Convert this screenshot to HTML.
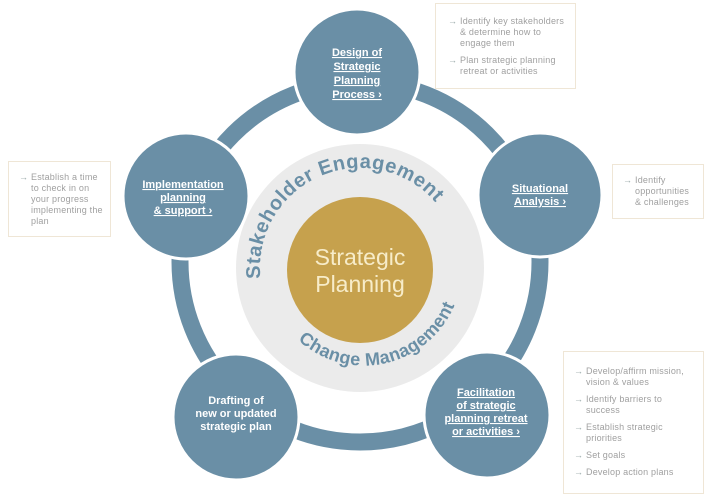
<!DOCTYPE html>
<html><head><style>
html,body{margin:0;padding:0;background:#fff;width:720px;height:494px;overflow:hidden}
.box{position:absolute;border:1.5px solid #efe6d6;background:#fff;font-family:"Liberation Sans",sans-serif;font-size:9px;line-height:11px;letter-spacing:0.2px;color:#a0a0a0;box-sizing:border-box}
.box p{margin:0 0 6px 0;padding-left:12px;position:relative}
.box p:before{content:"\2192";position:absolute;left:0;color:#9aa}
</style></head><body>
<svg width="720" height="494" style="position:absolute;left:0;top:0" font-family="Liberation Sans, sans-serif">
<circle cx="360" cy="262" r="180" fill="none" stroke="#6a8fa6" stroke-width="17"/>
<circle cx="360" cy="268" r="124" fill="#ebebeb"/>
<circle cx="360" cy="270" r="73" fill="#c6a14d"/>
<text x="360" y="265" text-anchor="middle" font-size="23" fill="#f7ecc9">Strategic</text>
<text x="360" y="292" text-anchor="middle" font-size="23" fill="#f7ecc9">Planning</text>
<defs>
<path id="top" d="M 260.5 278.5 A 100 100 0 0 1 454 234"/>
<path id="bot" d="M 298 340 A 98 98 0 0 0 462 268"/>
</defs>
<text font-size="20" font-weight="bold" fill="#6a8fa6" letter-spacing="0.6"><textPath href="#top">Stakeholder Engagement</textPath></text>
<text font-size="18" font-weight="bold" fill="#6a8fa6" letter-spacing="0.4"><textPath href="#bot">Change Management</textPath></text>
<g stroke="#fff" stroke-width="3" fill="#6a8fa6">
<circle cx="357" cy="72" r="63"/>
<circle cx="540" cy="195" r="62"/>
<circle cx="487" cy="415" r="63"/>
<circle cx="236" cy="417" r="63"/>
<circle cx="186" cy="196" r="63"/>
</g>
<g font-size="11" font-weight="bold" fill="#fff" text-anchor="middle" text-decoration="underline">
<text x="357" y="56">Design of</text><text x="357" y="70">Strategic</text><text x="357" y="84">Planning</text><text x="357" y="98">Process ›</text>
<text x="540" y="192">Situational</text><text x="540" y="205">Analysis ›</text>
<text x="486" y="396">Facilitation</text><text x="486" y="409">of strategic</text><text x="486" y="422">planning retreat</text><text x="486" y="435">or activities ›</text>
<text x="183" y="188">Implementation</text><text x="183" y="201">planning</text><text x="183" y="214">&amp; support ›</text>
</g>
<g font-size="11" font-weight="bold" fill="#fff" text-anchor="middle">
<text x="236" y="404">Drafting of</text><text x="236" y="417">new or updated</text><text x="236" y="430">strategic plan</text>
</g>
</svg>
<div class="box" style="left:435px;top:3px;width:141px;height:86px;padding:12px 8px 0 12px"><p>Identify key stakeholders &amp; determine how to engage them</p><p>Plan strategic planning retreat or activities</p></div>
<div class="box" style="left:612px;top:164px;width:92px;height:55px;padding:10px 8px 0 10px"><p>Identify opportunities &amp; challenges</p></div>
<div class="box" style="left:8px;top:161px;width:103px;height:76px;padding:10px 4px 0 10px"><p>Establish a time to check in on your progress implementing the plan</p></div>
<div class="box" style="left:563px;top:351px;width:141px;height:143px;padding:14px 10px 0 10px"><p>Develop/affirm mission, vision &amp; values</p><p>Identify barriers to success</p><p>Establish strategic priorities</p><p>Set goals</p><p>Develop action plans</p></div>
</body></html>
